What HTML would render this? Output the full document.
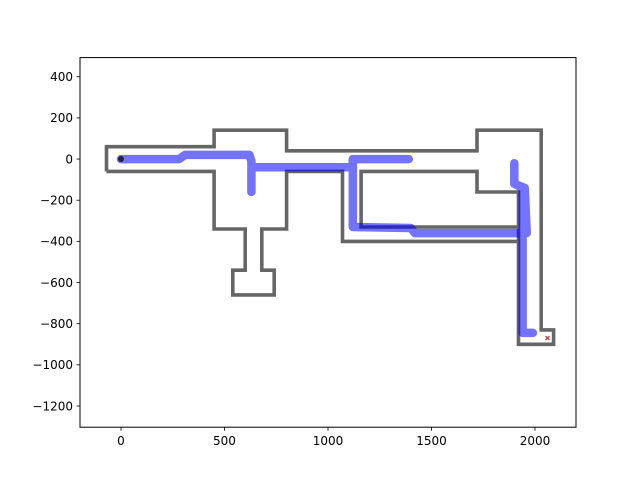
<!DOCTYPE html>
<html><head><meta charset="utf-8"><style>
body{margin:0;background:#fff;}
svg{display:block;font-family:"DejaVu Sans","Liberation Sans",sans-serif;}
</style></head><body>
<svg id="chart" width="640" height="480">
<rect x="0" y="0" width="640" height="480" fill="#fff"/>
<g id="plot"></g>
</svg>
<script>
const xTicks=[0,500,1000,1500,2000];
const yTicks=[400,200,0,-200,-400,-600,-800,-1000,-1200];
const wallOuterX=[-70,-70,450,450,800,800,1720,1720,2030,2030,2090,2090,1920,1920,1720,1720,1160,1160,1920];
const wallOuterY=[-60,60,60,140,140,40,40,140,140,-830,-830,-900,-900,-160,-160,-60,-60,-330,-330];
const wallInnerX=[-70,450,450,600,600,540,540,740,740,680,680,800,800,1070,1070,1920];
const wallInnerY=[-60,-60,-340,-340,-540,-540,-660,-660,-540,-540,-340,-340,-60,-60,-400,-400];
const pathX=[0,280,310,620,630,630,630,1080,1120,1120,1390,1120,1120,1400,1420,1960,1950,1900,1900,1900,1940,1940,1990];
const pathY=[0,0,20,20,-10,-160,-40,-40,-40,0,0,0,-330,-335,-360,-360,-140,-120,-20,-120,-140,-845,-845];
const startPoint=[0,0];
const goalPoint=[2060,-870];

const L=80,R=576,T=57.6,B=427.2;
const xMin=-198,xMax=2198,yMin=-1303,yMax=493;
const sx=v=>L+(v-xMin)/(xMax-xMin)*(R-L);
const sy=v=>B-(v-yMin)/(yMax-yMin)*(B-T);
const NS="http://www.w3.org/2000/svg";
const g=document.getElementById('plot');
function mk(t,a){const e=document.createElementNS(NS,t);for(const k in a)e.setAttribute(k,a[k]);g.appendChild(e);return e;}
function pts(xs,ys){return xs.map((x,i)=>sx(x).toFixed(1)+','+sy(ys[i]).toFixed(1)).join(' ');}

let w1=mk('polyline',{points:pts(wallOuterX,wallOuterY),fill:'none',stroke:'#666',['stroke-width']:3.6,['stroke-linejoin']:'miter'});


let w2=mk('polyline',{points:pts(wallInnerX,wallInnerY),fill:'none',stroke:'#666',['stroke-width']:3.6,['stroke-linejoin']:'miter'});



let p=mk('polyline',{points:pts(pathX,pathY),fill:'none',stroke:'#0000ff',['stroke-opacity']:0.55,['stroke-width']:8.5,['stroke-linecap']:'round',['stroke-linejoin']:'round'});



let s=mk('circle',{cx:sx(startPoint[0]),cy:sy(startPoint[1]),r:3,fill:'#222244'});


let gx=sx(goalPoint[0]),gy=sy(goalPoint[1]);
let gm=mk('path',{d:`M${gx-2},${gy-2}L${gx+2},${gy+2}M${gx-2},${gy+2}L${gx+2},${gy-2}`,stroke:'#c03030',['stroke-width']:1.2});



let fr=mk('rect',{x:L,y:T,width:R-L,height:B-T,fill:'none',stroke:'#000',['stroke-width']:1});



xTicks.forEach(v=>{
  const x=sx(v);
  let t=mk('line',{x1:x,x2:x,y1:B,y2:B+3.5,stroke:'#000',['stroke-width']:0.8});
  
  
  let l=mk('text',{x:x,y:B+18,['font-size']:12,['text-anchor']:'middle',fill:'#000'});
  l.textContent=v;
  
  
});
yTicks.forEach(v=>{
  const y=sy(v);
  let t=mk('line',{x1:L-3.5,x2:L,y1:y,y2:y,stroke:'#000',['stroke-width']:0.8});
  
  
  let l=mk('text',{x:L-7,y:y+4.3,['font-size']:12,['text-anchor']:'end',fill:'#000'});
  l.textContent=v<0?'\u2212'+(-v):v;
  
  
});
</script>
</body></html>
